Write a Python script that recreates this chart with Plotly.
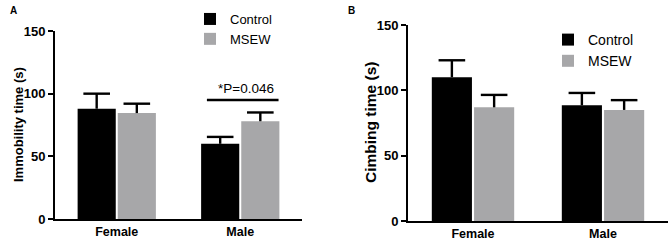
import plotly.graph_objects as go

categories = ["Female", "Male"]
groups = ["Control", "MSEW"]

# Panel A: Immobility time (s)
imm_control = [88, 60]
imm_control_err = [12, 5.5]
imm_msew = [84.5, 78]
imm_msew_err = [7.5, 7]

# Panel B: Climbing time (s)
climb_control = [110, 88.5]
climb_control_err = [13, 9.5]
climb_msew = [87, 85]
climb_msew_err = [9.5, 7.5]

y_ticks = [0, 50, 100, 150]
sig_text = "*P=0.046"
sig_y = 95
title_a = "Immobility time (s)"
title_b = "Cimbing time (s)"

W, H = 669, 245
FONT = "Arial, Liberation Sans, Helvetica, sans-serif"
BLACK = "#000000"
GRAY = "#a7a7a9"

fig = go.Figure()

def add_bars(vals, errs, name, color, xa, ya, legend):
    # bar with error stem only (no caps)
    fig.add_trace(go.Bar(
        x=categories, y=vals, name=name, marker=dict(color=color, line=dict(width=0)),
        error_y=dict(type="data", symmetric=False, array=errs, arrayminus=[0] * len(errs),
                     color=BLACK, thickness=2.4, width=0),
        xaxis=xa, yaxis=ya, legend=legend, offsetgroup=name,
    ))
    # upper cap of the error bar
    fig.add_trace(go.Scatter(
        x=categories, y=[v + e for v, e in zip(vals, errs)], mode="markers",
        marker=dict(symbol="line-ew", size=19, line=dict(color=BLACK, width=2.4)),
        xaxis=xa, yaxis=ya, offsetgroup=name, showlegend=False, hoverinfo="skip",
    ))

add_bars(imm_control, imm_control_err, groups[0], BLACK, "x", "y", "legend")
add_bars(imm_msew, imm_msew_err, groups[1], GRAY, "x", "y", "legend")
add_bars(climb_control, climb_control_err, groups[0], BLACK, "x2", "y2", "legend2")
add_bars(climb_msew, climb_msew_err, groups[1], GRAY, "x2", "y2", "legend2")

def px_x(p):
    return p / W

def px_y(p):
    return 1 - p / H

axis_common = dict(showline=True, linecolor=BLACK, linewidth=2, showgrid=False,
                   zeroline=False, automargin=False)

def tf(size):
    return dict(family=FONT, size=size, color=BLACK, weight="bold")

fig.update_layout(
    width=W, height=H,
    margin=dict(l=0, r=0, t=0, b=0, autoexpand=False),
    paper_bgcolor="white", plot_bgcolor="white",
    barmode="group", bargap=0.35, bargroupgap=0.05,
    scattermode="group", scattergap=0.35,
    font=dict(family=FONT, color=BLACK),
    xaxis=dict(domain=[px_x(55), px_x(302)], anchor="y", range=[-0.5, 1.5],
               ticks="", tickfont=tf(12.5), **axis_common),
    yaxis=dict(domain=[px_y(219), px_y(31)], anchor="x", range=[0, 150],
               tickvals=y_ticks, ticks="outside", ticklen=5, tickwidth=2, tickcolor=BLACK,
               tickfont=tf(13), **axis_common),
    xaxis2=dict(domain=[px_x(408), px_x(668)], anchor="y2", range=[-0.5, 1.5],
                ticks="", tickfont=tf(12.5), **axis_common),
    yaxis2=dict(domain=[px_y(221), px_y(25)], anchor="x2", range=[0, 150],
                tickvals=y_ticks, ticks="outside", ticklen=5, tickwidth=2, tickcolor=BLACK,
                tickfont=tf(13), **axis_common),
    legend=dict(x=px_x(190), y=px_y(4), xanchor="left", yanchor="top",
                font=dict(family=FONT, size=13, color=BLACK), bgcolor="rgba(0,0,0,0)",
                tracegroupgap=0, itemwidth=30),
    legend2=dict(x=px_x(548), y=px_y(24), xanchor="left", yanchor="top",
                 font=dict(family=FONT, size=14, color=BLACK), bgcolor="rgba(0,0,0,0)",
                 tracegroupgap=0, itemwidth=30),
)

# y-axis titles
fig.add_annotation(xref="paper", yref="paper", x=px_x(18), y=px_y(125), textangle=-90,
                   xanchor="center", yanchor="middle", text=title_a, showarrow=False,
                   font=tf(13))
fig.add_annotation(xref="paper", yref="paper", x=px_x(370), y=px_y(123), textangle=-90,
                   xanchor="center", yanchor="middle", text=title_b, showarrow=False,
                   font=tf(15.5))

# significance bar in panel A
fig.add_shape(type="line", xref="x", yref="y", x0=0.73, x1=1.31, y0=sig_y, y1=sig_y,
              line=dict(color=BLACK, width=2.5))
fig.add_annotation(xref="x", yref="y", x=1.05, y=sig_y, yanchor="bottom", yshift=2,
                   text=sig_text, showarrow=False,
                   font=dict(family=FONT, size=13.5, color=BLACK))

# panel letters
fig.add_annotation(xref="paper", yref="paper", x=px_x(8), y=px_y(10), xanchor="left",
                   yanchor="middle", text="<b>A</b>", showarrow=False,
                   font=dict(family=FONT, size=10, color=BLACK))
fig.add_annotation(xref="paper", yref="paper", x=px_x(346), y=px_y(10), xanchor="left",
                   yanchor="middle", text="<b>B</b>", showarrow=False,
                   font=dict(family=FONT, size=10, color=BLACK))

fig.write_html("out.html", config={"displayModeBar": False},
               post_script="document.body.style.margin='0';")
